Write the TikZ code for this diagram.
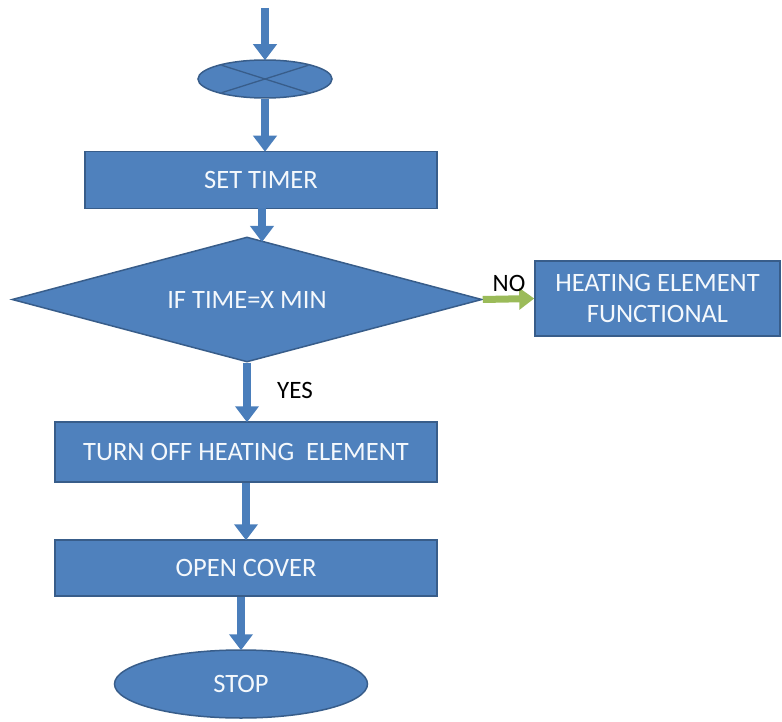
\documentclass[tikz,border=0pt]{standalone}
\usepackage{fontspec}
\setmainfont{Carlito}
\usetikzlibrary{shapes.geometric,arrows.meta}
\definecolor{boxblue}{HTML}{4F81BD}
\definecolor{boxedge}{HTML}{385D8A}
\definecolor{arrowblue}{HTML}{4A7EBB}
\definecolor{nogreen}{HTML}{9BBB59}
\definecolor{paletext}{HTML}{F4F8FC}
\tikzset{
  blk/.style={draw=boxedge, line width=1.5pt, fill=boxblue, text=paletext, font=\fontsize{26.5}{31}\selectfont, align=center, inner sep=0pt},
  procbox/.style={blk, rectangle},
  ovalbox/.style={blk, ellipse},
  decbox/.style={blk, diamond},
  flow/.style={arrowblue, line width=7.5pt, -{Triangle[width=23pt,length=16pt]}, shorten >=-1pt},
  noflow/.style={nogreen, line width=7pt, -{Triangle[width=21pt,length=15pt]}},
  lbl/.style={text=black, font=\fontsize{25}{29}\selectfont, inner sep=0pt}
}
\begin{document}
\begin{tikzpicture}[x=1pt,y=-1pt]
\useasboundingbox (0,0) rectangle (782,722);
\coordinate (start) at (265,8);
\node[ovalbox, minimum width=134pt, minimum height=38pt] (cross) at (265,79) {};
\begin{scope}
\clip (265,79) ellipse [x radius=66pt, y radius=18pt];
\draw[boxedge, line width=1.3pt] (205,60) -- (325,98);
\draw[boxedge, line width=1.3pt] (325,60) -- (205,98);
\end{scope}
\node[procbox, minimum width=352pt, minimum height=57pt] (set) at (261,180) {SET TIMER};
\node[decbox, minimum width=470pt, minimum height=125pt, aspect=3.76] (dec) at (247,299.5) {IF TIME=X MIN};
\node[procbox, minimum width=245pt, minimum height=75pt] (heat) at (657.5,298.5) {HEATING ELEMENT\\FUNCTIONAL};
\node[procbox, minimum width=382pt, minimum height=60pt] (off) at (246,452) {TURN OFF HEATING\ \ ELEMENT};
\node[procbox, minimum width=382pt, minimum height=56pt] (open) at (246,568) {OPEN COVER};
\node[ovalbox, minimum width=253pt, minimum height=68pt] (stop) at (241,684) {STOP};
\coordinate (c1) at (262,208);
\coordinate (c2) at (262,241);
\draw[flow] (start) -- (cross.north);
\draw[flow] (cross.south) -- (cross.south |- set.north);
\draw[flow] (c1) -- (c2);
\draw[flow] (dec.south) -- (dec.south |- off.north);
\draw[flow] (off.south) -- (off.south |- open.north);
\draw[flow] (open.south -| stop.north) -- (stop.north);
\draw[noflow] (dec.east) -- (heat.west);
\node[lbl] (no) at (509,283) {NO};
\node[lbl] (yes) at (295,390) {YES};
\end{tikzpicture}
\end{document}
